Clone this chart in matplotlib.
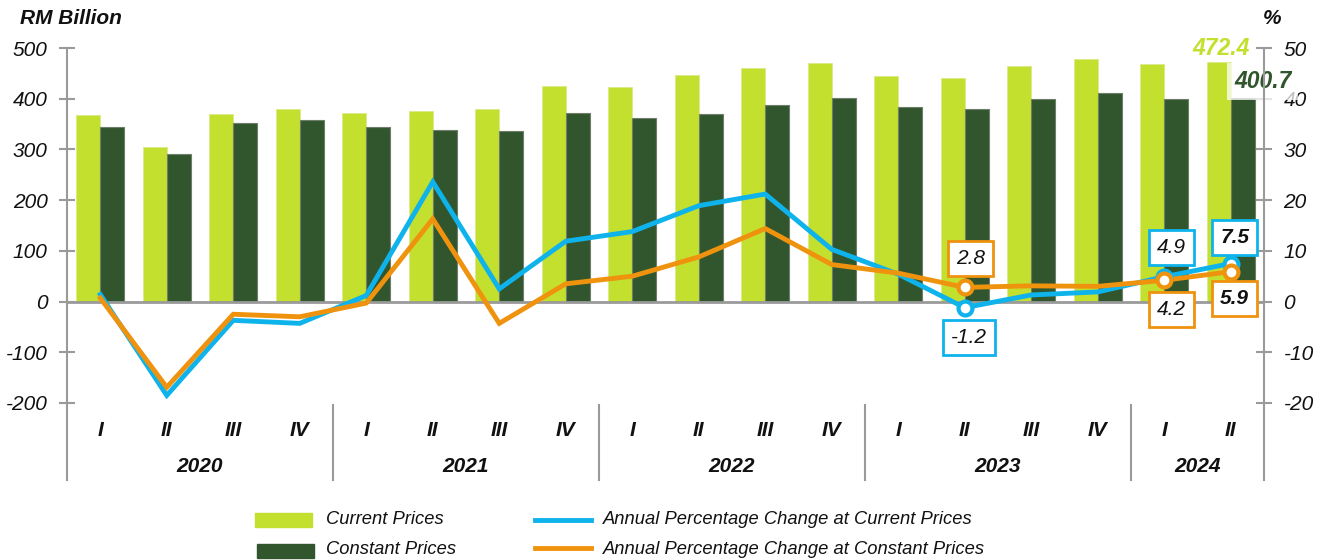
import matplotlib
matplotlib.use("Agg")
import matplotlib.pyplot as plt
from matplotlib.lines import Line2D
from matplotlib.patches import Rectangle
import matplotlib.transforms as mtransforms
import numpy as np

plt.rcParams['font.family'] = ['Liberation Sans', 'DejaVu Sans']
plt.rcParams['axes.unicode_minus'] = False

# ---------------- data ----------------
quarters = ["I", "II", "III", "IV"] * 4 + ["I", "II"]
years = ["2020", "2021", "2022", "2023", "2024"]
year_sizes = [4, 4, 4, 4, 2]
current_prices = [368, 304, 370, 380, 372, 375, 379, 426, 424, 447, 460, 470,
                  445, 441, 465, 479, 468, 472.4]
constant_prices = [345, 291, 353, 359, 345, 339, 337, 372, 362, 369, 387, 401,
                   383, 380, 399, 412, 399, 400.7]
pct_current = [1.4, -18.5, -3.7, -4.3, 1.2, 23.6, 2.5, 11.9, 13.8, 18.9, 21.2,
               10.3, 5.4, -1.2, 1.3, 1.9, 4.9, 7.5]
pct_constant = [0.7, -16.9, -2.5, -3.0, -0.3, 16.3, -4.3, 3.5, 5.0, 8.8, 14.4,
                7.3, 5.6, 2.8, 3.1, 3.0, 4.2, 5.9]
left_ticks = [-200, -100, 0, 100, 200, 300, 400, 500]
right_ticks = [-20, -10, 0, 10, 20, 30, 40, 50]
labelled_idx = [13, 16, 17]
bold_idx = [17]

LIME = '#c3e02f'
DKGREEN = '#31562d'
BLUE = '#0fb3ec'
ORANGE = '#ef930f'
GRAY = '#9a9a9a'
TXT = '#111111'

W, H = 1329, 560
fig = plt.figure(figsize=(W / 100, H / 100), dpi=100)
L, R, T, B = 67, 1264, 48, 403
ax = fig.add_axes([L / W, 1 - B / H, (R - L) / W, (B - T) / H])
ax2 = ax.twinx()

n = len(quarters)
x = np.arange(n)
bw = 0.36
ax.bar(x - bw / 2, current_prices, width=bw, color=LIME, edgecolor='#d8ec8a',
       linewidth=0.6, zorder=2)
ax.bar(x + bw / 2, constant_prices, width=bw, color=DKGREEN, edgecolor='#6f7d6c',
       linewidth=0.8, zorder=2)
ax.axhline(0, color=GRAY, lw=2, zorder=3)

ax.set_xlim(-0.5, n - 0.5)
ax.set_ylim(left_ticks[0], left_ticks[-1])
ax2.set_ylim(right_ticks[0], right_ticks[-1])
ax.set_yticks(left_ticks)
ax.set_yticklabels([str(v) for v in left_ticks], fontstyle='italic')
ax2.set_yticks(right_ticks)
ax2.set_yticklabels([str(v) for v in right_ticks], fontstyle='italic')

for a in (ax, ax2):
    for s in ('top', 'bottom'):
        a.spines[s].set_visible(False)
    a.spines['left'].set_visible(a is ax)
    a.spines['right'].set_visible(a is ax2)
    a.tick_params(axis='y', direction='inout', length=12, width=1.5,
                  color=GRAY, labelsize=15, pad=8, labelcolor=TXT)
    a.set_xticks([])
ax.spines['left'].set_color(GRAY)
ax.spines['left'].set_linewidth(1.5)
ax2.spines['right'].set_color(GRAY)
ax2.spines['right'].set_linewidth(1.5)

# extended spines and year separators below the plot
ext = (480 - B) / (B - T)
ax.add_line(Line2D([0, 0], [0, -ext], transform=ax.transAxes, color=GRAY,
                   lw=1.5, clip_on=False))
ax.add_line(Line2D([1, 1], [0, -ext], transform=ax.transAxes, color=GRAY,
                   lw=1.5, clip_on=False))
trans = mtransforms.blended_transform_factory(ax.transData, ax.transAxes)
pos = 0
sep_top = -(405 - B) / (B - T)
for yr, sz in zip(years, year_sizes):
    ax.text(pos + (sz - 1) / 2, -(467 - B) / (B - T), yr, transform=trans,
            ha='center', va='center', fontsize=15, fontweight='bold',
            fontstyle='italic', color=TXT)
    pos += sz
    if pos < n:
        ax.add_line(Line2D([pos - 0.5, pos - 0.5], [sep_top, -ext], transform=trans,
                           color=GRAY, lw=1.5, clip_on=False))
for i, q in enumerate(quarters):
    ax.text(i, -(430 - B) / (B - T), q, transform=trans, ha='center', va='center',
            fontsize=15, fontweight='bold', fontstyle='italic', color=TXT)

# lines
ax2.plot(x, pct_current, color=BLUE, lw=3.5, zorder=4, solid_joinstyle='miter')
ax2.plot(x, pct_constant, color=ORANGE, lw=3.5, zorder=5, solid_joinstyle='miter')
ax2.plot(x[labelled_idx], np.array(pct_current)[labelled_idx], 'o', ms=10,
         mfc='white', mec=BLUE, mew=3, zorder=6, ls='none')
ax2.plot(x[labelled_idx], np.array(pct_constant)[labelled_idx], 'o', ms=10,
         mfc='white', mec=ORANGE, mew=3, zorder=7, ls='none')

# annotation boxes (offsets in pixels)
offs_cur = {13: (4, -30), 16: (7, 29), 17: (4, 26)}
offs_con = {13: (6, 29), 16: (7, -29), 17: (4, -27)}
for series, offs, col in ((pct_current, offs_cur, BLUE), (pct_constant, offs_con, ORANGE)):
    for i in labelled_idx:
        ax2.annotate(f"{series[i]:.1f}", xy=(i, series[i]), xytext=offs[i],
                     textcoords='offset pixels', ha='center', va='center',
                     fontsize=15, fontstyle='italic',
                     fontweight='bold' if i in bold_idx else 'normal', color=TXT,
                     bbox=dict(boxstyle='square,pad=0.38', fc='white', ec=col, lw=2),
                     zorder=10)

# latest values labels
last = n - 1
ax2.annotate(f"{current_prices[last]:.1f}",
             xy=(last - bw / 2, current_prices[last] / 10), xytext=(2, 13),
             textcoords='offset pixels', ha='center', va='center', fontsize=16.5,
             fontweight='bold', fontstyle='italic', color=LIME, zorder=11)
ax2.annotate(f"{constant_prices[last]:.1f}",
             xy=(last + bw / 2, constant_prices[last] / 10), xytext=(20, 17),
             textcoords='offset pixels', ha='center', va='center', fontsize=16.5,
             fontweight='bold', fontstyle='italic', color=DKGREEN, zorder=2,
             bbox=dict(boxstyle='square,pad=0.3', fc='white', ec='none', alpha=0.75))

# axis titles
fig.text(20 / W, 1 - 19 / H, "RM Billion", ha='left', va='center', fontsize=15,
         fontweight='bold', fontstyle='italic', color=TXT)
fig.text(1272 / W, 1 - 19 / H, "%", ha='center', va='center', fontsize=15,
         fontweight='bold', fontstyle='italic', color=TXT)

# legend (manual)
def fx(px):
    return px / W

def fy(py):
    return 1 - py / H

fig.patches.append(Rectangle((fx(255), fy(527)), (312 - 255) / W, 14 / H,
                             transform=fig.transFigure, color=LIME))
fig.patches.append(Rectangle((fx(257), fy(558)), (314 - 257) / W, 14 / H,
                             transform=fig.transFigure, color=DKGREEN))
fig.text(fx(326), fy(520), "Current Prices", ha='left', va='center', fontsize=13.2,
         fontstyle='italic', color=TXT)
fig.text(fx(326), fy(549), "Constant Prices", ha='left', va='center', fontsize=13.2,
         fontstyle='italic', color=TXT)
fig.lines.append(Line2D([fx(535), fx(591)], [fy(520), fy(520)], transform=fig.transFigure,
                        color=BLUE, lw=3.5))
fig.lines.append(Line2D([fx(535), fx(591)], [fy(548), fy(548)], transform=fig.transFigure,
                        color=ORANGE, lw=3.5))
fig.text(fx(603), fy(520), "Annual Percentage Change at Current Prices", ha='left',
         va='center', fontsize=13.2, fontstyle='italic', color=TXT)
fig.text(fx(603), fy(549), "Annual Percentage Change at Constant Prices", ha='left',
         va='center', fontsize=13.2, fontstyle='italic', color=TXT)

fig.savefig("out.png", dpi=100)
